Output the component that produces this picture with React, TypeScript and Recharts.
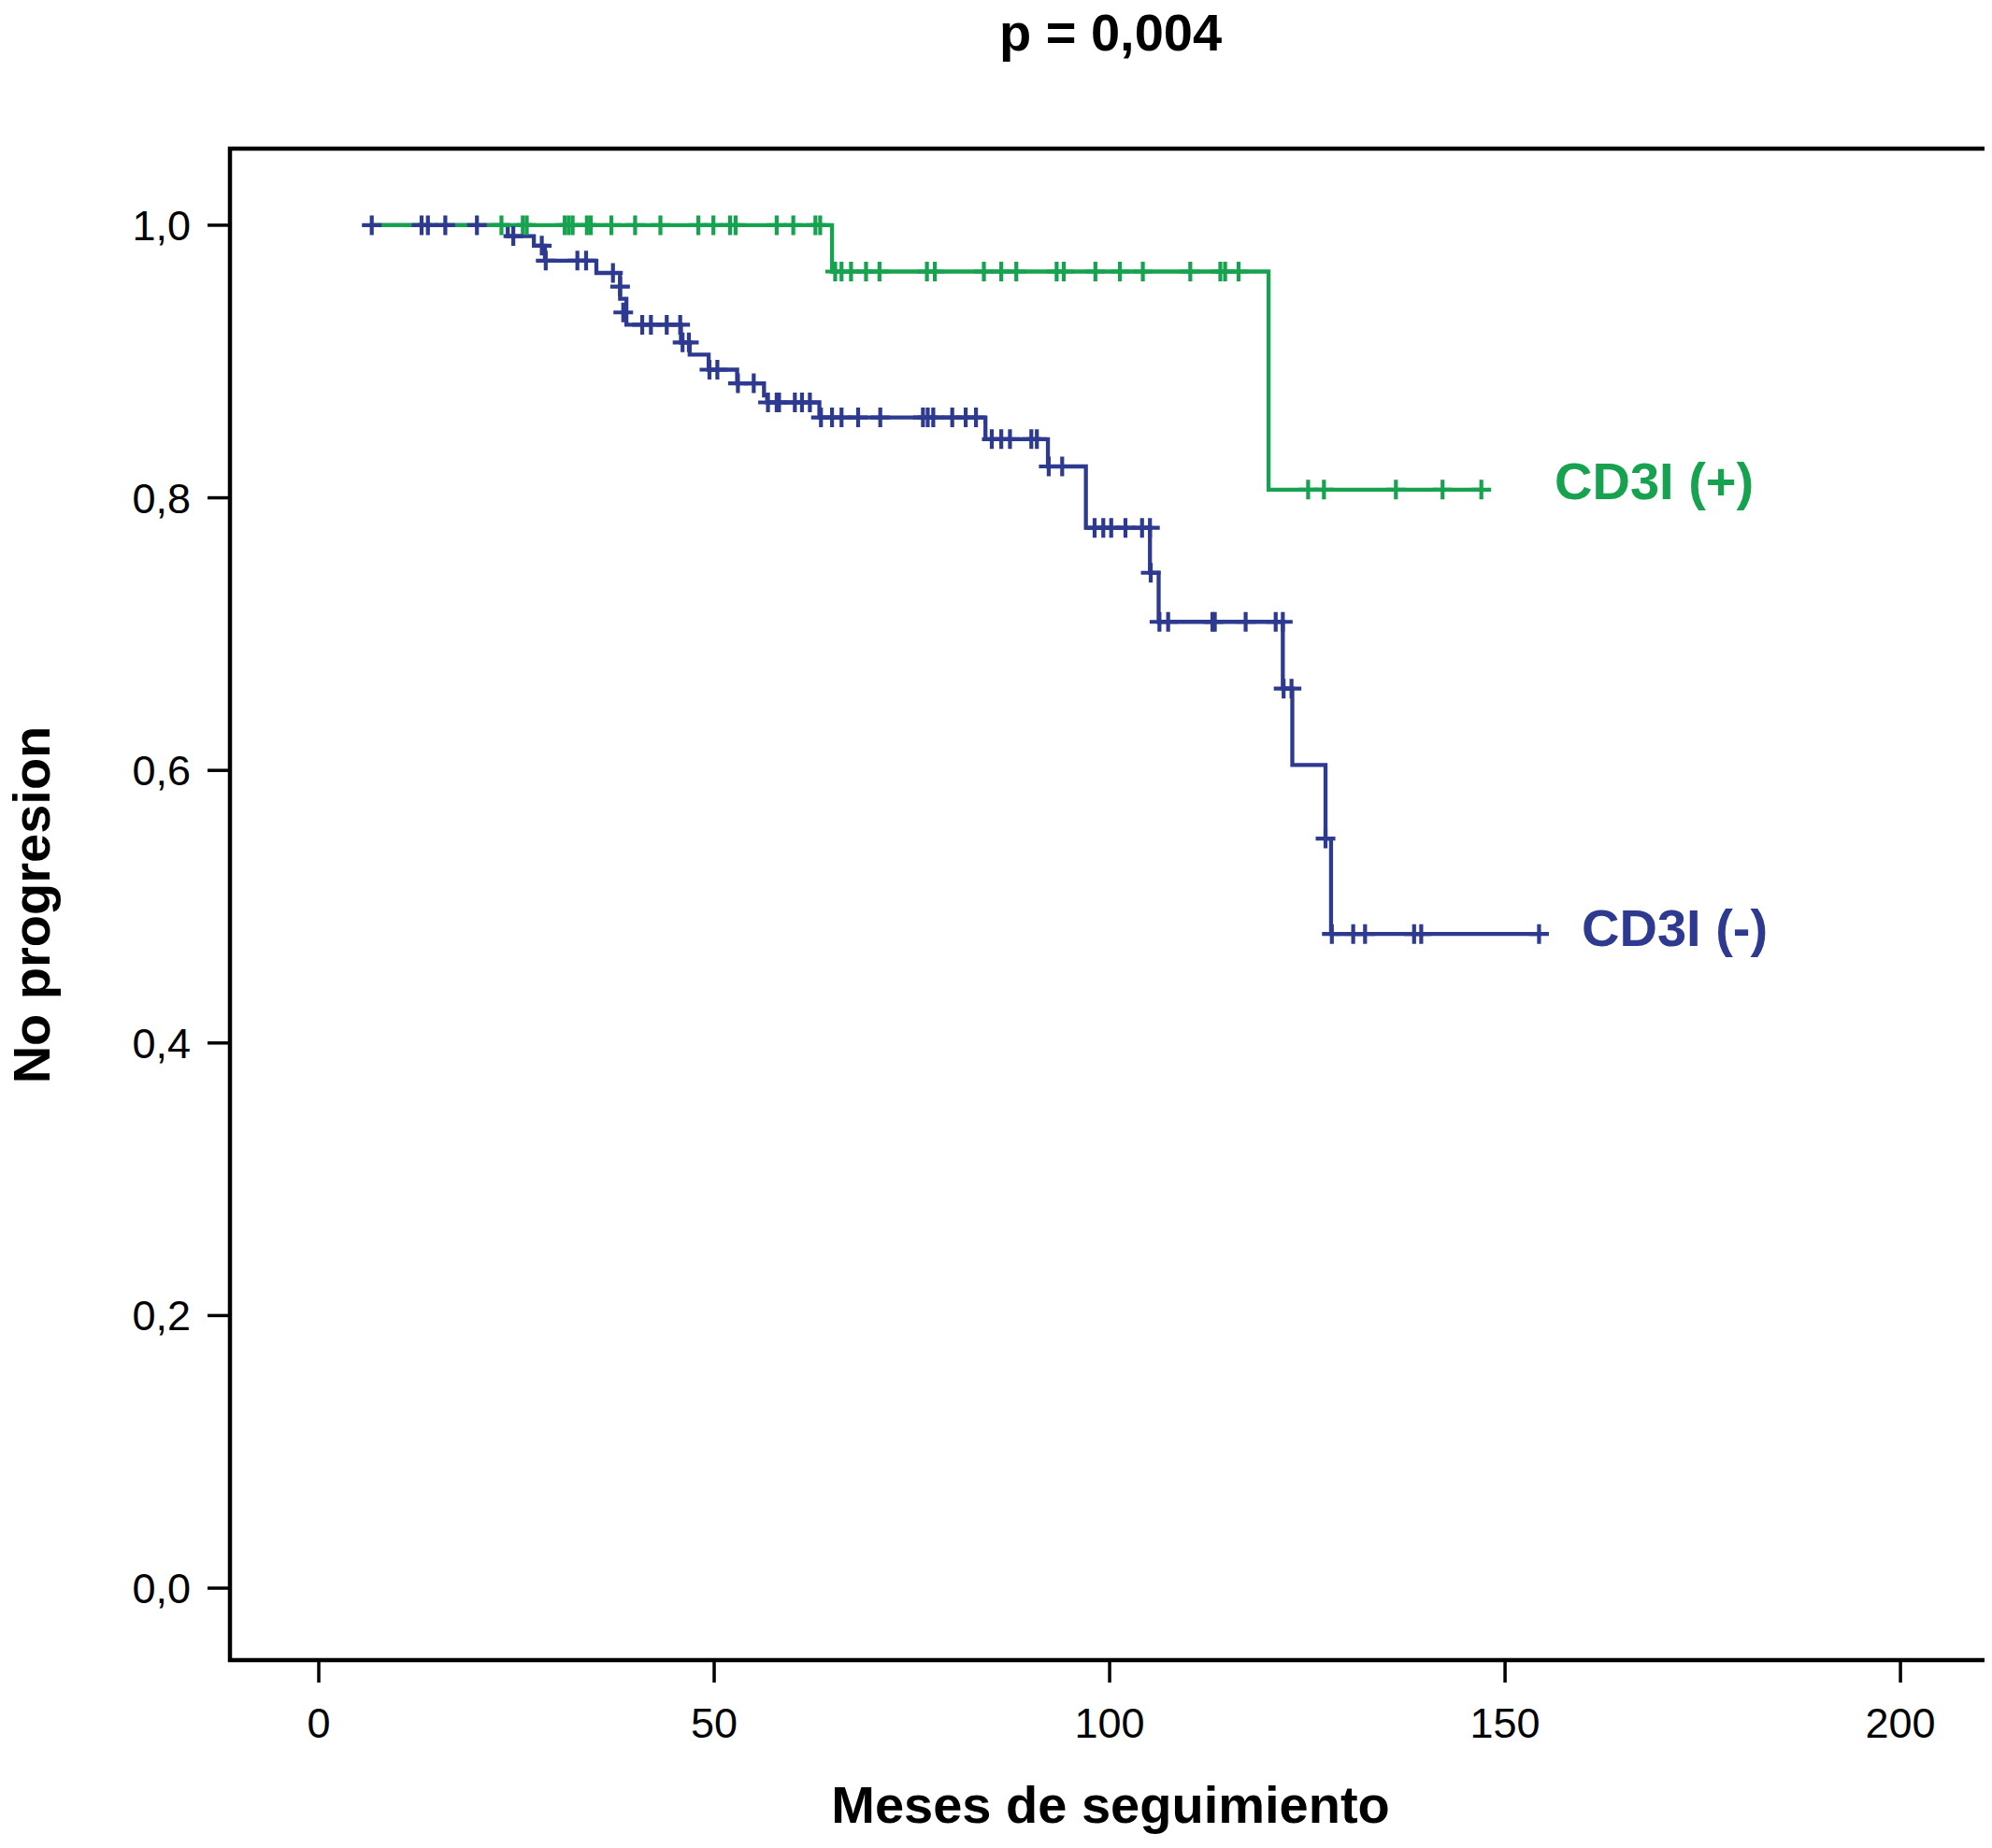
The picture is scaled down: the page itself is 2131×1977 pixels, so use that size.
import React from 'react';
import { ComposedChart, Line, Scatter, XAxis, YAxis, ReferenceArea } from 'recharts';

// ---- axis ticks ----
const xTicks = [0, 50, 100, 150, 200];
const yTicks = [0, 0.2, 0.4, 0.6, 0.8, 1.0];

// ---- CD3I (-) : step points ----
const negStepTimes = [6.7, 23.9, 27.2, 28.6, 35.1, 38.1, 38.9, 45.8, 46.9, 49.3, 52.9, 56.3, 56.7, 63.3, 84.3, 92.2, 97.0, 105.1, 106.2, 121.9, 123.1, 127.3, 128.0, 154.3];
const negStepSurv = [1.0, 0.992, 0.985, 0.974, 0.965, 0.946, 0.927, 0.914, 0.905, 0.894, 0.884, 0.875, 0.87, 0.859, 0.843, 0.823, 0.778, 0.745, 0.709, 0.66, 0.604, 0.55, 0.48, 0.48];

// ---- CD3I (-) : censored cases, grouped by level ----
const negCensorLevels = [1.0, 0.992, 0.985, 0.974, 0.965, 0.955, 0.936, 0.927, 0.914, 0.894, 0.884, 0.87, 0.859, 0.843, 0.823, 0.778, 0.745, 0.709, 0.66, 0.55, 0.48];
const negCensorTimes = [
  [6.7, 13.0, 13.8, 16.0, 20.0],
  [24.6],
  [28.2],
  [28.7, 32.7, 33.8],
  [37.2],
  [38.1],
  [38.5],
  [40.9, 42.0, 44.0, 45.7],
  [46.0, 46.8],
  [49.4, 50.4],
  [53.0, 55.0],
  [56.8, 57.9, 58.2, 60.2, 61.1, 62.1],
  [63.5, 64.9, 66.1, 68.2, 71.0, 76.4, 77.0, 77.7, 80.1, 81.8, 83.1],
  [85.1, 86.3, 87.4, 90.1, 90.8],
  [92.3, 94.0],
  [98.1, 99.2, 100.2, 102.0, 104.1, 105.1],
  [105.2],
  [106.3, 107.4, 113.0, 113.3, 117.2, 121.0, 121.9],
  [122.0, 123.0],
  [127.3],
  [128.1, 130.8, 132.3, 138.5, 139.4, 154.3],
];

// ---- CD3I (+) : step points ----
const posStepTimes = [6.7, 64.9, 120.1, 147.0];
const posStepSurv = [1.0, 0.966, 0.806, 0.806];

// ---- CD3I (+) : censored cases, grouped by level ----
const posCensorLevels = [1.0, 0.966, 0.806];
const posCensorTimes = [
  [23.1, 25.8, 26.3, 31.1, 31.6, 32.1, 33.9, 34.4, 37.0, 40.0, 43.2, 48.0, 49.9, 52.0, 52.7, 57.9, 60.0, 62.8, 63.4],
  [65.3, 66.1, 67.3, 69.2, 70.9, 76.9, 77.9, 84.1, 86.3, 88.2, 93.3, 94.2, 98.2, 101.3, 104.2, 110.2, 114.0, 114.6, 116.3],
  [125.1, 127.1, 136.2, 142.1, 147.0],
];

const X_DOMAIN: [number, number] = [-11.23, 211.1];
const Y_DOMAIN: [number, number] = [-0.0528, 1.0562];

const GREEN = '#17a24f';
const BLUE = '#2d3a8f';
const FONT = '"Liberation Sans", Arial, Helvetica, sans-serif';

const toSteps = (ts: number[], ss: number[]) => ts.map((t, i) => ({ t, s: ss[i] }));
const toCensors = (levels: number[], times: number[][]) =>
  levels.flatMap((s, i) => times[i].map((t) => ({ t, s })));

const negSteps = toSteps(negStepTimes, negStepSurv);
const posSteps = toSteps(posStepTimes, posStepSurv);
const negCensors = toCensors(negCensorLevels, negCensorTimes);
const posCensors = toCensors(posCensorLevels, posCensorTimes);

const makePlus = (color: string) => (props: any) => {
  const { cx, cy } = props;
  if (cx == null || cy == null) return <g />;
  return (
    <path
      d={`M${cx - 10.5},${cy}H${cx + 10.5}M${cx},${cy - 10.5}V${cy + 10.5}`}
      stroke={color}
      strokeWidth={4.2}
      fill="none"
    />
  );
};

const W = 2123;
const H = 1969;

export default function App() {
  return (
    <div style={{ position: 'relative', width: W, height: H, background: '#fff' }}>
      <ComposedChart
        width={W}
        height={H}
        margin={{ top: 151, right: 4, bottom: 81, left: 118 }}
      >
        <XAxis
          type="number"
          dataKey="t"
          domain={X_DOMAIN}
          allowDataOverflow
          ticks={xTicks}
          interval={0}
          height={120}
          axisLine={false}
          tickSize={24}
          tickMargin={27}
          tickLine={{ stroke: '#000', strokeWidth: 3.5 }}
          tick={{ fill: '#000', fontSize: 45, fontFamily: FONT }}
        />
        <YAxis
          type="number"
          dataKey="s"
          domain={Y_DOMAIN}
          allowDataOverflow
          ticks={yTicks}
          interval={0}
          width={120}
          axisLine={false}
          tickSize={24}
          tickMargin={18}
          tickLine={{ stroke: '#000', strokeWidth: 3.5 }}
          tick={{ fill: '#000', fontSize: 45, fontFamily: FONT }}
          tickFormatter={(v: number) => v.toFixed(1).replace('.', ',')}
        />
        <ReferenceArea
          x1={X_DOMAIN[0]}
          x2={X_DOMAIN[1]}
          y1={Y_DOMAIN[0]}
          y2={Y_DOMAIN[1]}
          fill="none"
          fillOpacity={0}
          stroke="#000"
          strokeWidth={4.5}
          ifOverflow="visible"
        />
        <Line
          data={negSteps}
          dataKey="s"
          type="stepAfter"
          stroke={BLUE}
          strokeWidth={4.3}
          dot={false}
          activeDot={false}
          isAnimationActive={false}
        />
        <Line
          data={posSteps}
          dataKey="s"
          type="stepAfter"
          stroke={GREEN}
          strokeWidth={4.3}
          dot={false}
          activeDot={false}
          isAnimationActive={false}
        />
        <Scatter data={posCensors} dataKey="s" shape={makePlus(GREEN)} isAnimationActive={false} />
        <Scatter data={negCensors} dataKey="s" shape={makePlus(BLUE)} isAnimationActive={false} />
      </ComposedChart>
      <svg
        width={W}
        height={H}
        style={{ position: 'absolute', left: 0, top: 0, pointerEvents: 'none' }}
      >
        <text x={1180} y={46} textAnchor="middle" fontFamily={FONT} fontWeight="bold" fontSize={56} fill="#000">
          p = 0,004
        </text>
        <text x={1180} y={1942} textAnchor="middle" fontFamily={FONT} fontWeight="bold" fontSize={56} fill="#000">
          Meses de seguimiento
        </text>
        <text
          x={0}
          y={0}
          transform="translate(45,960) rotate(-90)"
          textAnchor="middle"
          fontFamily={FONT}
          fontWeight="bold"
          fontSize={56}
          fill="#000"
        >
          No progresion
        </text>
        <text x={1655} y={526} fontFamily={FONT} fontWeight="bold" fontSize={56} fill={GREEN}>
          CD3I (+)
        </text>
        <text x={1684} y={1004} fontFamily={FONT} fontWeight="bold" fontSize={56} fill={BLUE}>
          CD3I (-)
        </text>
      </svg>
    </div>
  );
}
